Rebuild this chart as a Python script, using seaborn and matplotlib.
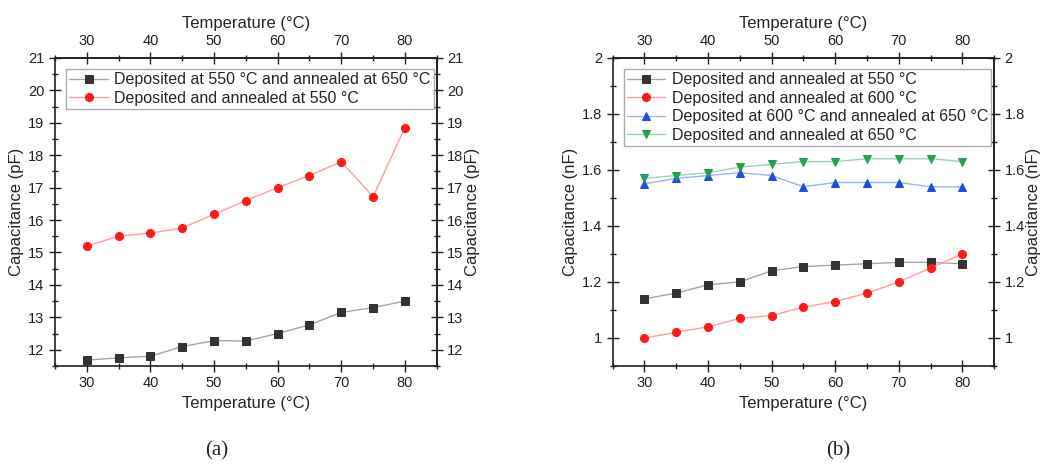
import matplotlib
matplotlib.use("Agg")
import matplotlib.pyplot as plt
from matplotlib.ticker import MultipleLocator, FuncFormatter
import seaborn as sns

# temperatures shared by every series
temps = [30, 35, 40, 45, 50, 55, 60, 65, 70, 75, 80]

# panel (a), capacitance in pF
a_550_650 = [11.68, 11.75, 11.80, 12.10, 12.28, 12.27, 12.50, 12.77, 13.15, 13.30, 13.50]
a_550 = [15.20, 15.50, 15.60, 15.75, 16.18, 16.60, 17.00, 17.37, 17.80, 16.72, 18.85]
a_labels = ["Deposited at 550 °C and annealed at 650 °C",
            "Deposited and annealed at 550 °C"]

# panel (b), capacitance in nF
b_550 = [1.14, 1.16, 1.19, 1.20, 1.24, 1.255, 1.26, 1.265, 1.27, 1.27, 1.265]
b_600 = [1.00, 1.02, 1.04, 1.07, 1.08, 1.11, 1.13, 1.16, 1.20, 1.25, 1.30]
b_600_650 = [1.55, 1.57, 1.58, 1.59, 1.58, 1.54, 1.555, 1.555, 1.555, 1.54, 1.54]
b_650 = [1.57, 1.58, 1.59, 1.61, 1.62, 1.63, 1.63, 1.64, 1.64, 1.64, 1.63]
b_labels = ["Deposited and annealed at 550 °C",
            "Deposited and annealed at 600 °C",
            "Deposited at 600 °C and annealed at 650 °C",
            "Deposited and annealed at 650 °C"]

# (marker, marker colour, line colour)
styles = [("s", "#333333", "#a6a6a6"),
          ("o", "#ff1a1a", "#ff9c9c"),
          ("^", "#1f4fe0", "#9ab4f2"),
          ("v", "#26a050", "#9ad6ac")]

sns.set_theme(style="ticks")
plt.rcParams["font.family"] = ["Liberation Sans", "DejaVu Sans"]

fig = plt.figure(figsize=(10.4, 4.71), dpi=100)
ax_a = fig.add_axes([0.0529, 0.223, 0.367, 0.654])
ax_b = fig.add_axes([0.589, 0.223, 0.367, 0.654])


def fmt(v, pos):
    return ("%.1f" % v).rstrip("0").rstrip(".")


def ticks(a):
    a.tick_params(which="both", direction="inout", labelsize=10.5, width=1,
                  color="#222222", labelcolor="#222222")
    a.tick_params(which="major", length=8)
    a.tick_params(which="minor", length=4.5)
    for s in a.spines.values():
        s.set_linewidth(1.2)
        s.set_color("#222222")


def dress(ax, ylim, major, minor, ylabel):
    ax.set_xlim(25, 85)
    ax.set_ylim(*ylim)
    ax.xaxis.set_major_locator(MultipleLocator(10))
    ax.xaxis.set_minor_locator(MultipleLocator(5))
    ax.yaxis.set_major_locator(MultipleLocator(major))
    ax.yaxis.set_minor_locator(MultipleLocator(minor))
    ax.yaxis.set_major_formatter(FuncFormatter(fmt))
    ax.set_xlabel("Temperature (°C)", fontsize=12, labelpad=4)
    ax.set_ylabel(ylabel, fontsize=12, labelpad=3)
    ticks(ax)

    top = ax.secondary_xaxis("top")
    top.xaxis.set_major_locator(MultipleLocator(10))
    top.xaxis.set_minor_locator(MultipleLocator(5))
    top.set_xlabel("Temperature (°C)", fontsize=12, labelpad=4)
    right = ax.secondary_yaxis("right")
    right.yaxis.set_major_locator(MultipleLocator(major))
    right.yaxis.set_minor_locator(MultipleLocator(minor))
    right.yaxis.set_major_formatter(FuncFormatter(fmt))
    right.set_ylabel(ylabel, fontsize=12, labelpad=1)
    ticks(top)
    ticks(right)

    leg = ax.legend(loc="upper left", fontsize=11.5, frameon=True, fancybox=False,
                    borderpad=0.2, labelspacing=0.22, handlelength=2.4,
                    handletextpad=0.4, borderaxespad=0.7)
    leg.get_frame().set_edgecolor("#999999")
    leg.get_frame().set_linewidth(1.0)


for vals, lab, (m, mc, lc) in zip([a_550_650, a_550], a_labels, styles):
    sns.lineplot(x=temps, y=vals, ax=ax_a, label=lab, color=lc, linewidth=1,
                 marker=m, markersize=5.8, markerfacecolor=mc, markeredgecolor=mc)
dress(ax_a, (11.5, 21), 1, 0.5, "Capacitance (pF)")

for vals, lab, (m, mc, lc) in zip([b_550, b_600, b_600_650, b_650], b_labels, styles):
    sns.lineplot(x=temps, y=vals, ax=ax_b, label=lab, color=lc, linewidth=1,
                 marker=m, markersize=5.8, markerfacecolor=mc, markeredgecolor=mc)
dress(ax_b, (0.9, 2.0), 0.2, 0.1, "Capacitance (nF)")

fig.text(0.2087, 0.023, "(a)", fontsize=15, family=["Liberation Serif", "DejaVu Serif"],
         ha="center", va="bottom")
fig.text(0.8058, 0.023, "(b)", fontsize=15, family=["Liberation Serif", "DejaVu Serif"],
         ha="center", va="bottom")

fig.savefig("out.png", dpi=100)
